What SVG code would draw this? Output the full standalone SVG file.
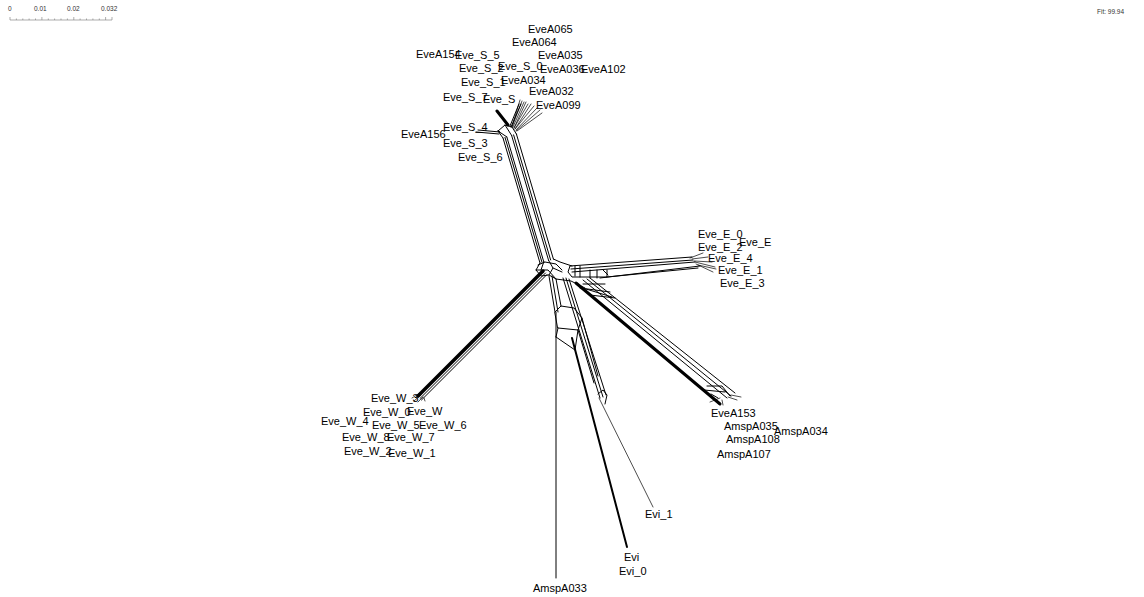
<svg xmlns="http://www.w3.org/2000/svg" width="1144" height="597" viewBox="0 0 1144 597">
  <style>
    .lbl { font-family: "Liberation Sans", Arial, sans-serif; font-size: 11px; fill: #000; }
    .tiny { font-family: "Liberation Sans", Arial, sans-serif; font-size: 6.5px; fill: #333; }
    .e { stroke: #000; stroke-width: 1; fill: none; stroke-linejoin: round; stroke-linecap: round; }
    .t2 { stroke-width: 2; }
    .t3 { stroke-width: 3; }
    .t4 { stroke-width: 3.5; }
    .thin { stroke-width: 0.7; }
    .ruler { stroke: #777; stroke-width: 0.6; fill: none; }
  </style>
  <rect width="1144" height="597" fill="#fff"/>

  <!-- scale bar -->
  <g id="scale">
    <text class="tiny" x="8" y="11">0</text>
    <text class="tiny" x="34" y="11">0.01</text>
    <text class="tiny" x="67" y="11">0.02</text>
    <text class="tiny" x="101" y="11">0.032</text>
    <path class="ruler" d="M10 20 H112 M10 17 V20 M16.4 18.5 V20 M22.8 18.5 V20 M29.1 18.5 V20 M35.5 18.5 V20 M41.9 17 V20 M48.3 18.5 V20 M54.6 18.5 V20 M61 18.5 V20 M67.4 18.5 V20 M73.8 17 V20 M80.1 18.5 V20 M86.5 18.5 V20 M92.9 18.5 V20 M99.3 18.5 V20 M105.6 17 V20 M112 17 V20"/>
  </g>
  <text id="fit" class="tiny" x="1097" y="14">Fit: 99.94</text>

  <!-- splits network -->
  <g id="connectors">
    <!-- northern bundle -->
    <path class="e" d="M503 138 L540 263 M505 137.4 L542 262.4 M506.8 136.9 L543.8 261.9 M511.6 135.4 L548.6 260.4 M513.6 134.9 L550.6 259.9 M516.4 134 L553.4 259"/>
    <path class="e" d="M503 138 L498 131 L505 125 L512 127 L516.4 134 M505 125 L511.6 135.4 M498 131 L506.8 136.9"/>
    <path class="e t3" d="M497 111 L508 125"/>
    <path class="e" d="M478 130 L500 132 L498 131 M476 132 L499 134"/>
    <path class="e thin" d="M512 127 L520 100 M512 127 L522 101 M513 127 L524 102 M514 128 L526 102 M514 128 L528 104 M515 129 L531 104 M515 129 L534 106 M516 130 L537 108 M517 131 L542 113 M516 131 L540 110"/>
    <path class="e" d="M510 126 L519 104 M511 127 L521 104"/>

    <!-- central hub -->
    <path class="e" d="M540 263 L536 270 L541 276 L549 275 L553 268 L548.6 260.4 M543.8 261.9 L541 270 M553.4 259 L560 262 L572 266 M553 268 L562 272 M549 275 L556 279 L571 281 L585 288"/>
    <path class="e" d="M538 265 L545 262 L556 264 L562 270 M536 270 L548 270 L556 279"/>

    <!-- eastern bundle -->
    <path class="e" d="M570 266 L692 257 M571 269 L693 260 M572 272 L695 262 M600 278 L700 266 M607 277 L698 268"/>
    <path class="e" d="M570 266 L568 272 L572 277 L607 277 L607 270 M575 266 V276 M580 266 V277 M590 270 V278 M597 270 V278 M603 270 L608 275"/>
    <path class="e thin" d="M690 258 L703 253 M692 259 L708 257 M694 261 L712 262 M695 262 L715 267 M696 264 L713 272 M698 265 L716 269"/>

    <!-- south-east bundle -->
    <path class="e t3" d="M576 283 L720 404"/>
    <path class="e" d="M583 280 L727 398 M587 279 L731 396 M590 278 L735 393 M580 288 L610 292 M583 284 L605 284 M586 289 L612 297 M590 295 L615 298"/>
    <path class="e" d="M707 386 L722 386 L730 396 M704 390 L725 392 M711 394 L718 398"/>
    <path class="e thin" d="M720 398 L710 402 M722 400 L723 405 M728 397 L737 400 M731 395 L741 397"/>

    <!-- western bundle -->
    <path class="e t4" d="M543 271 L418 396"/>
    <path class="e" d="M545.5 273 L420 398.5 M547 274.5 L421.5 400"/>
    <path class="e thin" d="M420 393 L412 398 M421 395 L414 401 M423 397 L418 402 M424 398 L425 401"/>

    <!-- southern bundles -->
    <path class="e" d="M549 276 L555 312 M552 276 L558 312 M556 279 L561 306"/>
    <path class="e" d="M555 312 L561 306 L574 308 L582 318 L578 330 L558 328 Z M558 328 L556 337 M578 330 L575 350 M556 337 L575 350"/>
    <path class="e" d="M556 312 V578"/>
    <path class="e" d="M563 278 L600 398 M566 278 L603 397 M569 279 L606 395 M582 318 L598 376 M578 330 L594 383"/>
    <path class="e" d="M598 394 L603 390 L607 395 L605 404"/>
    <path class="e t2" d="M572 338 L627 547"/>
    <path class="e thin" d="M599 398 L653 507"/>
  </g>

  <!-- leaf labels -->
  <g id="nodes">
    <g id="n-EveA065"><text class="lbl" x="528" y="33">EveA065</text></g>
    <g id="n-EveA064"><text class="lbl" x="512" y="46">EveA064</text></g>
    <g id="n-EveA154"><text class="lbl" x="416" y="58">EveA154</text></g>
    <g id="n-Eve_S_5"><text class="lbl" x="455" y="59">Eve_S_5</text></g>
    <g id="n-EveA035"><text class="lbl" x="538" y="59">EveA035</text></g>
    <g id="n-Eve_S_0"><text class="lbl" x="498" y="70">Eve_S_0</text></g>
    <g id="n-Eve_S_2"><text class="lbl" x="459" y="72">Eve_S_2</text></g>
    <g id="n-EveA036"><text class="lbl" x="540" y="73">EveA036</text></g>
    <g id="n-EveA102"><text class="lbl" x="581" y="73">EveA102</text></g>
    <g id="n-EveA034"><text class="lbl" x="501" y="84">EveA034</text></g>
    <g id="n-Eve_S_1"><text class="lbl" x="461" y="86">Eve_S_1</text></g>
    <g id="n-EveA032"><text class="lbl" x="529" y="95">EveA032</text></g>
    <g id="n-Eve_S_7"><text class="lbl" x="443" y="101">Eve_S_7</text></g>
    <g id="n-Eve_S"><text class="lbl" x="483" y="103">Eve_S</text></g>
    <g id="n-EveA099"><text class="lbl" x="536" y="109">EveA099</text></g>
    <g id="n-Eve_S_4"><text class="lbl" x="443" y="131">Eve_S_4</text></g>
    <g id="n-EveA156"><text class="lbl" x="401" y="138">EveA156</text></g>
    <g id="n-Eve_S_3"><text class="lbl" x="443" y="147">Eve_S_3</text></g>
    <g id="n-Eve_S_6"><text class="lbl" x="458" y="161">Eve_S_6</text></g>

    <g id="n-Eve_E_0"><text class="lbl" x="698" y="238">Eve_E_0</text></g>
    <g id="n-Eve_E"><text class="lbl" x="739" y="246">Eve_E</text></g>
    <g id="n-Eve_E_2"><text class="lbl" x="698" y="251">Eve_E_2</text></g>
    <g id="n-Eve_E_4"><text class="lbl" x="708" y="262">Eve_E_4</text></g>
    <g id="n-Eve_E_1"><text class="lbl" x="718" y="274">Eve_E_1</text></g>
    <g id="n-Eve_E_3"><text class="lbl" x="720" y="287">Eve_E_3</text></g>

    <g id="n-Eve_W_3"><text class="lbl" x="371" y="402">Eve_W_3</text></g>
    <g id="n-Eve_W_0"><text class="lbl" x="363" y="416">Eve_W_0</text></g>
    <g id="n-Eve_W"><text class="lbl" x="407" y="415">Eve_W</text></g>
    <g id="n-Eve_W_4"><text class="lbl" x="321" y="425">Eve_W_4</text></g>
    <g id="n-Eve_W_5"><text class="lbl" x="372" y="429">Eve_W_5</text></g>
    <g id="n-Eve_W_6"><text class="lbl" x="419" y="429">Eve_W_6</text></g>
    <g id="n-Eve_W_8"><text class="lbl" x="342" y="441">Eve_W_8</text></g>
    <g id="n-Eve_W_7"><text class="lbl" x="387" y="441">Eve_W_7</text></g>
    <g id="n-Eve_W_2"><text class="lbl" x="344" y="455">Eve_W_2</text></g>
    <g id="n-Eve_W_1"><text class="lbl" x="388" y="457">Eve_W_1</text></g>

    <g id="n-EveA153"><text class="lbl" x="711" y="417">EveA153</text></g>
    <g id="n-AmspA035"><text class="lbl" x="724" y="430">AmspA035</text></g>
    <g id="n-AmspA034"><text class="lbl" x="774" y="435">AmspA034</text></g>
    <g id="n-AmspA108"><text class="lbl" x="726" y="443">AmspA108</text></g>
    <g id="n-AmspA107"><text class="lbl" x="717" y="458">AmspA107</text></g>

    <g id="n-Evi_1"><text class="lbl" x="645" y="518">Evi_1</text></g>
    <g id="n-Evi"><text class="lbl" x="624" y="561">Evi</text></g>
    <g id="n-Evi_0"><text class="lbl" x="619" y="575">Evi_0</text></g>
    <g id="n-AmspA033"><text class="lbl" x="533" y="592">AmspA033</text></g>
  </g>
</svg>
